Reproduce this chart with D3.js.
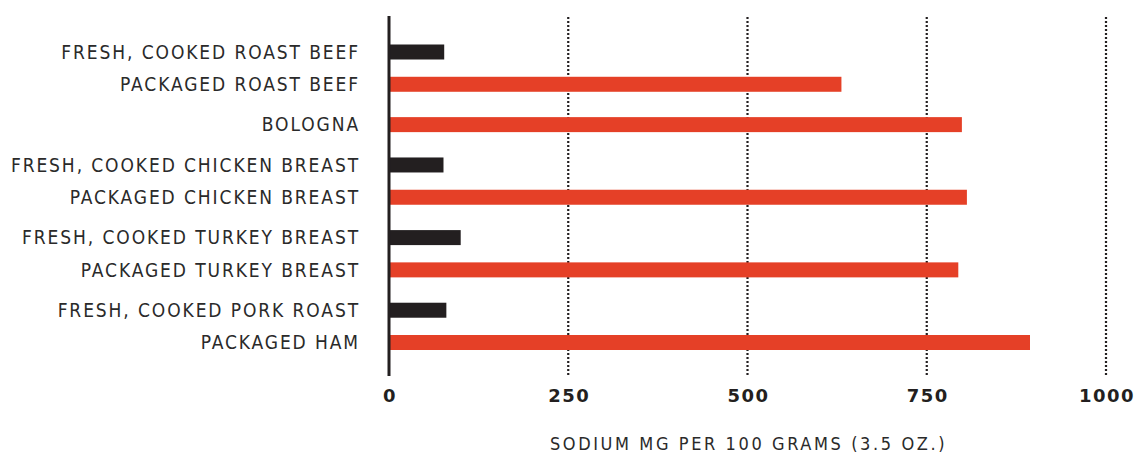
<!DOCTYPE html>
<html>
<head>
<meta charset="utf-8">
<script src="https://cdn.jsdelivr.net/npm/d3@7"></script>
<style>
  html, body { margin: 0; padding: 0; background: #fff; }
  svg { display: block; }
</style>
</head>
<body>
<div id="chart"></div>
<script>
// sodium per 100 g, fresh vs packaged meats
const categories = [
  'FRESH, COOKED ROAST BEEF',
  'PACKAGED ROAST BEEF',
  'BOLOGNA',
  'FRESH, COOKED CHICKEN BREAST',
  'PACKAGED CHICKEN BREAST',
  'FRESH, COOKED TURKEY BREAST',
  'PACKAGED TURKEY BREAST',
  'FRESH, COOKED PORK ROAST',
  'PACKAGED HAM'
];
const groups = ['beef', 'beef', 'bologna', 'chicken', 'chicken', 'turkey', 'turkey', 'pork', 'pork'];
const kinds  = ['fresh', 'packaged', 'packaged', 'fresh', 'packaged', 'fresh', 'packaged', 'fresh', 'packaged'];
const sodium = [77, 631, 799, 76, 806, 100, 794, 80, 894];
const xTicks = [0, 250, 500, 750, 1000];
const axisTitle = 'SODIUM MG PER 100 GRAMS (3.5 OZ.)';

const width = 1135, height = 455;
const COLORS = { fresh: '#231f20', packaged: '#e54027' };
const LABEL_FONT = '"DejaVu Sans Condensed", "DejaVu Sans", sans-serif';

const svg = d3.select('#chart')
  .append('svg')
  .attr('width', width)
  .attr('height', height);

// slot positions: items in the same group sit closer than items across groups
let slot = 0;
const slots = categories.map((c, i) => {
  if (i > 0) slot += groups[i] === groups[i - 1] ? 1 : 1.25;
  return slot;
});

const x = d3.scaleLinear().domain([0, 1000]).range([389, 1106]);
const y = d3.scaleLinear().domain([0, d3.max(slots)]).range([52, 342.5]);
const barH = 15;

const rows = categories.map((c, i) => ({ name: c, kind: kinds[i], value: sodium[i], pos: slots[i] }));

// dotted gridlines
svg.append('g')
  .selectAll('line')
  .data(xTicks.filter(d => d > 0))
  .join('line')
  .attr('x1', d => x(d)).attr('x2', d => x(d))
  .attr('y1', 17).attr('y2', 376)
  .attr('stroke', '#231f20')
  .attr('stroke-width', 2.2)
  .attr('stroke-dasharray', '2,2');

// bars
svg.append('g')
  .selectAll('rect')
  .data(rows)
  .join('rect')
  .attr('x', x(0))
  .attr('y', d => y(d.pos) - barH / 2)
  .attr('width', d => x(d.value) - x(0))
  .attr('height', barH)
  .attr('fill', d => COLORS[d.kind]);

// baseline
svg.append('line')
  .attr('x1', x(0)).attr('x2', x(0))
  .attr('y1', 16).attr('y2', 376)
  .attr('stroke', '#231f20')
  .attr('stroke-width', 3);

// category labels
svg.append('g')
  .selectAll('text')
  .data(rows)
  .join('text')
  .attr('x', 360)
  .attr('y', d => y(d.pos))
  .attr('dy', '0.36em')
  .attr('text-anchor', 'end')
  .attr('font-family', LABEL_FONT)
  .attr('font-size', 19)
  .attr('letter-spacing', '1.9px')
  .attr('fill', '#2a2a2a')
  .text(d => d.name);

// tick labels
svg.append('g')
  .selectAll('text')
  .data(xTicks)
  .join('text')
  .attr('x', d => x(d) + 1)
  .attr('y', 396)
  .attr('dy', '0.36em')
  .attr('text-anchor', 'middle')
  .attr('font-family', '"DejaVu Sans", sans-serif')
  .attr('font-weight', 'bold')
  .attr('font-size', 18)
  .attr('letter-spacing', '1.5px')
  .attr('fill', '#231f20')
  .text(d => d);

// axis title
svg.append('text')
  .attr('x', x(500) + 1)
  .attr('y', 444)
  .attr('dy', '0.36em')
  .attr('text-anchor', 'middle')
  .attr('font-family', LABEL_FONT)
  .attr('font-size', 18)
  .attr('letter-spacing', '2.6px')
  .attr('fill', '#2a2a2a')
  .text(axisTitle);
</script>
</body>
</html>
